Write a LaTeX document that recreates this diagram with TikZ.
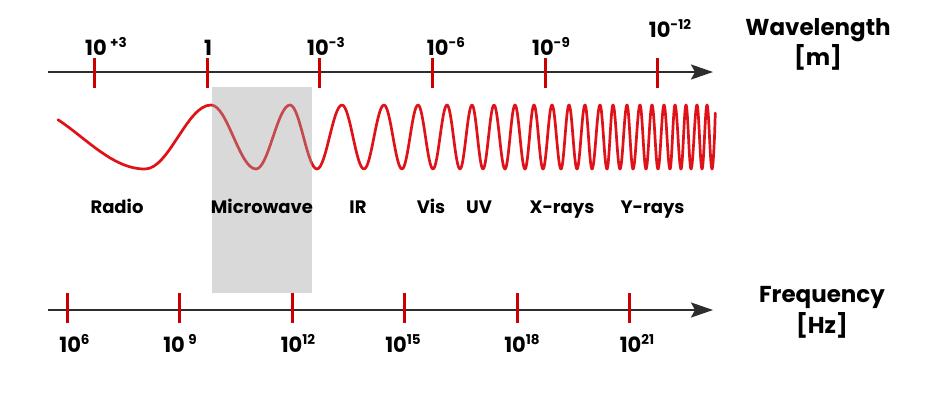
\documentclass[tikz,border=0pt]{standalone}
\usepackage{fontspec}
\setmainfont{Poppins}
\usetikzlibrary{arrows.meta}
\definecolor{wavered}{RGB}{222,18,24}
\definecolor{tickred}{RGB}{204,0,0}
\definecolor{axisgray}{RGB}{45,45,45}
\definecolor{shadegray}{RGB}{160,160,160}
\newcommand\expo[1]{\raisebox{7.5pt}{\fontsize{13.5}{13.5}\selectfont #1}}
\begin{document}
\begin{tikzpicture}[x=1pt,y=-1pt,
  axisline/.style={line width=2.2pt, draw=axisgray, -{Stealth[length=22pt,width=15pt,inset=4pt]}},
  tickmark/.style={line width=3pt, draw=tickred},
  wave/.style={line width=2.7pt, draw=wavered, line cap=round, line join=round},
  num/.style={font=\fontsize{21}{23}\selectfont\bfseries, inner sep=0pt, anchor=base},
  bandlbl/.style={font=\fontsize{18}{20}\selectfont\bfseries, inner sep=0pt, anchor=base},
  titlelbl/.style={font=\fontsize{23}{25}\selectfont\bfseries, inner sep=0pt, anchor=base},
]
\useasboundingbox (0,0) rectangle (925,407);

% axes
\coordinate (wstart) at (48,72);
\coordinate (wend) at (713,72);
\coordinate (fstart) at (48,310);
\coordinate (fend) at (713,310);
\draw[axisline] (wstart) -- (wend);
\draw[axisline] (fstart) -- (fend);

% ticks
\foreach \x in {94,207,319,432,545,657}
  \draw[tickmark] (\x,58) -- (\x,88);
\foreach \x in {67,179,292,404,517,629}
  \draw[tickmark] (\x,293) -- (\x,323);

% wave
\draw[wave] plot[domain=1.0:3.1416, samples=40, variable=\t] ({58+(\t-1.0)*87/2.1416}, {137-32*cos(\t r)})
  \foreach \a/\b/\y in {145/211/105, 211/256/169, 256/290/105, 290/317/169, 317/342/105,
     342/364/169, 364/384/105, 384/402/169, 402/418/105, 418/433/169, 433/447/105,
     447/460/169, 460/472/105, 472/483/169, 483/494/105, 494/505/169, 505/515/105,
     515/525/169, 525/534/105, 534/543/169, 543/552/105, 552/561/169, 561/569/105,
     569/577/169, 577/585/105, 585/592/169, 592/600/105, 600/607/169, 607/613/105,
     613/620/169, 620/627/105, 627/633/169, 633/640/105, 640/646/169, 646/652/105,
     652/658/169, 658/664/105, 664/670/169, 670/675/105, 675/681/169, 681/686/105,
     686/691/169, 691/697/105, 697/702/169, 702/707/105, 707/712/169}
  { cos ({(\a+\b)/2},137) sin (\b,\y) }
  cos (714.5,137) -- (715.3,113);

% microwave band shading
\node[fill=shadegray, fill opacity=0.4, minimum width=100pt, minimum height=206pt,
      inner sep=0pt, outer sep=0pt, anchor=north west] (mwband) at (212,87) {};

% wavelength labels
\node[num] (w3) at (106,55) {10\,\expo{+3}};
\node[num] (w0) at (208,55) {1};
\node[num] (wm3) at (326,55) {10\expo{-3}};
\node[num] (wm6) at (446,55) {10\expo{-6}};
\node[num] (wm9) at (551,55) {10\expo{-9}};
\node[num] (wm12) at (670,37) {10\expo{-12}};

% frequency labels
\node[num] (f6) at (74.5,352) {10\expo{6}};
\node[num] (f9) at (180,352) {10\,\expo{9}};
\node[num] (f12) at (298,352) {10\expo{12}};
\node[num] (f15) at (403,352) {10\expo{15}};
\node[num] (f18) at (522,352) {10\expo{18}};
\node[num] (f21) at (637,352) {10\expo{21}};

% band labels
\node[bandlbl] (radio) at (117,213) {Radio};
\node[bandlbl] (micro) at (262,213) {Microwave};
\node[bandlbl] (ir) at (358,213) {IR};
\node[bandlbl] (vis) at (431,213) {Vis};
\node[bandlbl] (uv) at (479,213) {UV};
\node[bandlbl] (xr) at (562,213) {X-rays};
\node[bandlbl] (yr) at (652.5,213) {Y-rays};

% axis titles
\node[titlelbl] (wt1) at (818,35) {Wavelength};
\node[titlelbl] (wt2) at (818,65) {[m]};
\node[titlelbl] (ft1) at (822,302) {Frequency};
\node[titlelbl] (ft2) at (822,333) {[Hz]};
\end{tikzpicture}
\end{document}
